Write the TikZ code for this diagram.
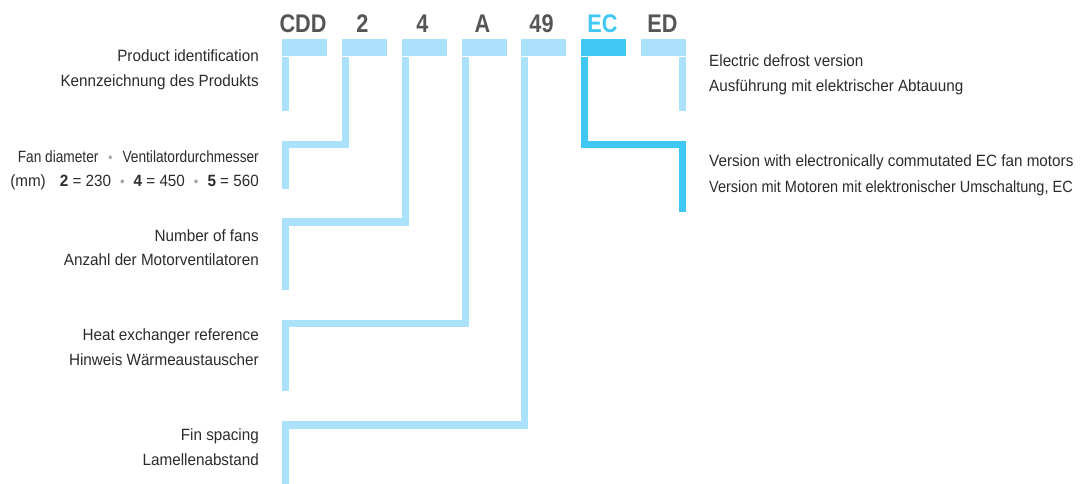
\documentclass[tikz,border=0pt]{standalone}
\usepackage{fontspec}
\setmainfont{Liberation Sans}[FakeStretch=0.935]
\newfontfamily\narrowfont{Liberation Sans}[FakeStretch=0.84]
\newfontfamily\tightfont{Liberation Sans}[FakeStretch=0.89]
\newfontfamily\hdrfont{Liberation Sans}[FakeStretch=0.85]
\definecolor{barblue}{HTML}{ABE1FA}
\definecolor{ecblue}{HTML}{40C8F4}
\definecolor{txtgray}{HTML}{2B2B2B}
\definecolor{hdrgray}{HTML}{555555}
\definecolor{dotgray}{HTML}{A5A5A5}
\newcommand{\sepdot}[1]{\hspace{#1}{\color{dotgray}\fontsize{14}{14}\selectfont\raisebox{0pt}{•}}\hspace{#1}}
\begin{document}
\begin{tikzpicture}[x=1pt,y=-1pt,
  bar/.style={rectangle,draw=none,fill=barblue,minimum width=45pt,minimum height=17pt,inner sep=0pt,outer sep=0pt,anchor=north west},
  hdr/.style={anchor=base,inner sep=0pt,text=hdrgray,font=\hdrfont\bfseries\fontsize{25.5}{26}\selectfont},
  conn/.style={draw=barblue,line width=7.3pt,line join=miter,line cap=butt},
  lbl/.style={anchor=base east,inner sep=0pt,text=txtgray,font=\fontsize{16.3}{20}\selectfont},
  rlbl/.style={anchor=base west,inner sep=0pt,text=txtgray,font=\fontsize{16.3}{20}\selectfont},
  nlbl/.style={anchor=base east,inner sep=0pt,text=txtgray,font=\narrowfont\fontsize{16.3}{20}\selectfont}]
\useasboundingbox (0,0) rectangle (1085,483);
% bars
\node[bar] (b1) at (282,39) {};
\node[bar] (b2) at (342,39) {};
\node[bar] (b3) at (402,39) {};
\node[bar] (b4) at (462,39) {};
\node[bar] (b5) at (521,39) {};
\node[bar,fill=ecblue] (b6) at (581,39) {};
\node[bar] (b7) at (641,39) {};
% headers
\node[hdr] (h1) at (303,32.3) {CDD};
\node[hdr] (h2) at (362.5,32.3) {2};
\node[hdr] (h3) at (422.5,32.3) {4};
\node[hdr] (h4) at (482.5,32.3) {A};
\node[hdr] (h5) at (541.5,32.3) {49};
\node[hdr,text=ecblue] (h6) at (602.5,32.3) {EC};
\node[hdr] (h7) at (662.5,32.3) {ED};
% connector end points
\coordinate (e1) at (285.65,111);
\coordinate (c2) at (345.65,144.65);
\coordinate (e2) at (285.65,188.7);
\coordinate (c3) at (405.65,222);
\coordinate (e3) at (285.65,290);
\coordinate (c4) at (465.65,323.65);
\coordinate (e4) at (285.65,391);
\coordinate (c5) at (524.65,424.85);
\coordinate (e5) at (285.65,484);
\coordinate (c6) at (584.65,144.65);
\coordinate (e6) at (682.35,212.3);
\coordinate (e7) at (682.35,110.7);
% connectors
\draw[conn] ([yshift=-1pt]b1.south west -| e1) -- (e1);
\draw[conn] ([yshift=-1pt]b2.south west -| c2) -- (c2) -- (c2 -| e2) -- (e2);
\draw[conn] ([yshift=-1pt]b3.south west -| c3) -- (c3) -- (c3 -| e3) -- (e3);
\draw[conn] ([yshift=-1pt]b4.south west -| c4) -- (c4) -- (c4 -| e4) -- (e4);
\draw[conn] ([yshift=-1pt]b5.south west -| c5) -- (c5) -- (c5 -| e5) -- (e5);
\draw[conn,draw=ecblue] ([yshift=-1pt]b6.south west -| c6) -- (c6) -- (c6 -| e6) -- (e6);
\draw[conn] ([yshift=-1pt]b7.south east -| e7) -- (e7);
% left labels
\node[lbl] (t1a) at (259,61.7) {Product identification};
\node[lbl] (t1b) at (259,86.5) {Kennzeichnung des Produkts};
\node[nlbl] (t2a) at (259,162.5) {Fan diameter\sepdot{10pt}Ventilatordurchmesser};
\node[lbl] (t2b) at (259,186.7) {(mm)\hspace{14pt}\textbf{2} = 230\sepdot{9pt}\textbf{4} = 450\sepdot{9pt}\textbf{5} = 560};
\node[lbl] (t3a) at (259,241) {Number of fans};
\node[lbl] (t3b) at (259,265) {Anzahl der Motorventilatoren};
\node[lbl] (t4a) at (259,340.7) {Heat exchanger reference};
\node[lbl] (t4b) at (259,365.7) {Hinweis Wärmeaustauscher};
\node[lbl] (t5a) at (259,440.7) {Fin spacing};
\node[lbl] (t5b) at (259,465.7) {Lamellenabstand};
% right labels
\node[rlbl] (t7a) at (709,66.7) {Electric defrost version};
\node[rlbl] (t7b) at (709,91.5) {Ausführung mit elektrischer Abtauung};
\node[rlbl] (t6a) at (709,166.7) {Version with electronically commutated EC fan motors};
\node[rlbl,font=\tightfont\fontsize{16.3}{20}\selectfont] (t6b) at (709,192) {Version mit Motoren mit elektronischer Umschaltung, EC};
\end{tikzpicture}
\end{document}
